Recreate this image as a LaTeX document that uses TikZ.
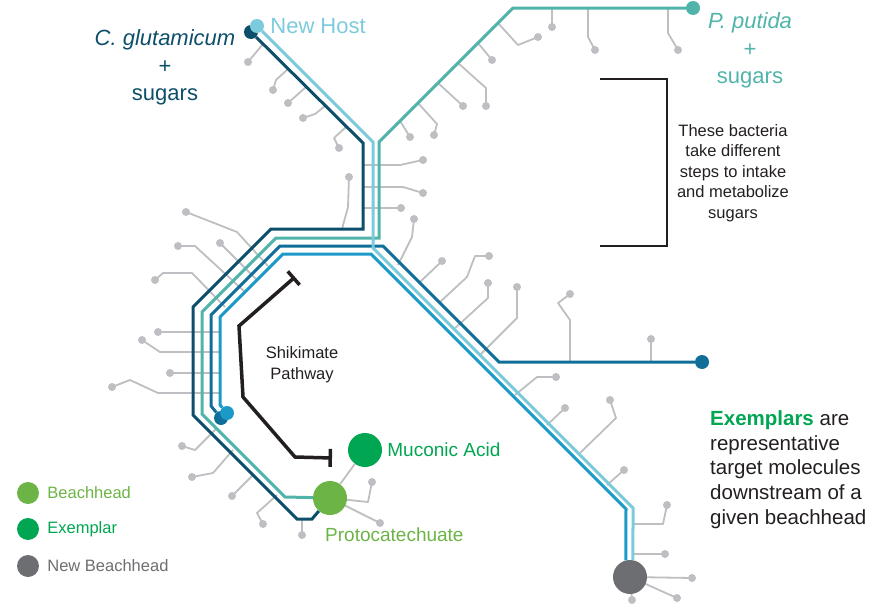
\documentclass[tikz,border=0pt]{standalone}
\usepackage{fontspec}
\setmainfont{Liberation Sans}
\usetikzlibrary{arrows.meta, positioning}

\definecolor{glunavy}{RGB}{13,79,107}
\definecolor{hostcyan}{RGB}{124,203,221}
\definecolor{putteal}{RGB}{80,180,170}
\definecolor{midblue}{RGB}{16,110,153}
\definecolor{brblue}{RGB}{27,154,199}
\definecolor{brgray}{RGB}{190,191,194}
\definecolor{bhgreen}{RGB}{108,180,69}
\definecolor{exgreen}{RGB}{0,166,81}
\definecolor{nbgray}{RGB}{109,110,113}
\definecolor{inkdark}{RGB}{35,31,32}

\begin{document}
\begin{tikzpicture}[x=1pt, y=-1pt]
			\tikzset{route/.style={line width=3pt}, branch/.style={draw=brgray, line width=1.8pt, line join=round},
				leaf/.style={circle, fill=brgray, inner sep=0pt, minimum size=8pt},
				dot/.style={circle, inner sep=0pt, minimum size=14pt},
				hub/.style={circle, inner sep=0pt, minimum size=34pt},
				legdot/.style={circle, inner sep=0pt, minimum size=22pt},
				hdr/.style={inner sep=0pt, font=\fontsize{22}{27.5}\selectfont},
				note/.style={inner sep=0pt, text=inkdark, font=\fontsize{16.5}{20.4}\selectfont},
				lbl/.style={inner sep=0pt, font=\fontsize{19}{23}\selectfont},
				leg/.style={inner sep=0pt, font=\fontsize{16.5}{20}\selectfont}}
			\useasboundingbox (0,0) rectangle (887,605);

			% side branches
			\foreach \ax/\ay/\bx/\by/\cx/\cy/\tx/\ty [count=\i] in {
				263/44/263/44/263/44/248/62, 288/69/276/80/276/80/273/90, 306/87/306/87/306/87/288/103,
				325/106/315/114/315/114/303/118, 346/127/334/138/334/138/339/148,
				363/165/400/165/400/165/423/160, 363/187/403/187/403/187/423/193, 363/208/363/208/363/208/401/208,
				342/229/348/207/348/207/349/177, 398/265/412/237/412/237/414/219, 420/282/420/282/420/282/442/261,
				552/8/552/8/552/8/552/27, 588/8/588/37/588/37/595/50, 668/8/668/33/668/33/678/50,
				498/23/518/45/518/45/538/37, 478/43/478/43/478/43/492/60, 458/63/486/88/486/88/486/106,
				438/83/438/83/438/83/463/106, 418/103/437/124/437/124/434/135, 400/121/400/121/400/121/410/137,
				440/302/467/277/475/256/489/256, 453/330/488/298/488/298/488/283, 480/355/517/318/517/318/517/287,
				570/362/570/320/558/303/570/294, 651/362/651/362/651/362/651/339, 515/395/537/377/537/377/556/377,
				547/425/547/425/547/425/565/408, 580/453/616/418/616/418/610/400, 607/485/607/485/607/485/624/470,
				633/524/663/524/663/524/667/505, 633/554/633/554/633/554/665/554,
				630/577/630/577/630/577/692/578, 630/577/630/577/630/577/677/598, 630/577/630/577/630/577/632/600,
				268/266/237/232/237/232/186/212, 245/292/195/246/195/246/178/246, 257/280/257/280/257/280/220/243,
				225/307/192/273/163/273/155/280, 220/332/220/332/220/332/158/332, 220/352/160/352/160/352/142/340,
				220/373/220/373/220/373/170/373, 220/393/158/393/130/380/112/387,
				217/428/195/450/195/450/182/446, 233/450/213/473/213/473/192/477, 253/475/253/475/253/475/232/496,
				277/495/257/513/257/513/263/524, 302/519/302/519/302/519/302/535,
				330/498/368/502/368/502/372/482, 330/498/330/498/330/498/380/523}
			{
				\node[leaf] (lf\i) at (\tx,\ty) {};
				\draw[branch] (\ax,\ay) -- (\bx,\by) -- (\cx,\cy) -- (lf\i.center);
			}

			% stops
			\node[dot, fill=glunavy] (glu) at (251,32) {};
			\node[dot, fill=hostcyan] (hst) at (257,26) {};
			\node[dot, fill=putteal] (ptd) at (693,8) {};
			\node[dot, fill=midblue] (mbe) at (702,362) {};
			\node[dot, fill=midblue] (mbd) at (221,418) {};
			\node[dot, fill=brblue] (bbd) at (227,413) {};
			\node[hub, fill=bhgreen] (pca) at (330,498) {};
			\node[hub, fill=exgreen] (muc) at (365,450) {};
			\node[hub, fill=nbgray] (nbh) at (630,577) {};
			\draw[branch] (pca) -- (muc);

			% routes
			\draw[route, glunavy] (glu) -- (363,143) -- (363,229) -- (271,229) -- (193,307) -- (193,415) -- (297,519) -- (312,519) -- (pca);
			\draw[route, putteal] (ptd) -- (513,8) -- (379,142) -- (379,238) -- (276,238) -- (202,312) -- (202,414) -- (285,497) -- (pca);
			\draw[route, midblue] (mbd) -- (211,406) -- (211,315) -- (280,246) -- (383,246) -- (499,362) -- (mbe);
			\draw[route, brblue] (bbd) -- (220,405) -- (220,317) -- (283,254) -- (371,254) -- (626,509) -- (nbh.104);
			\draw[route, hostcyan] (hst) -- (373,142) -- (373,248) -- (633,508) -- (nbh.80);

			% shikimate pathway
			\coordinate (shk1) at (295,277);
			\coordinate (shk2) at (332,458);
			\draw[inkdark, line width=3.5pt, {Bar[width=18pt]}-{Bar[width=18pt]}] (shk1) -- (239,326) -- (243,397) -- (295,457) -- (shk2);
			\node[note] (shk) at (302,365) {\begin{tabular}{@{}c@{}}Shikimate\\Pathway\end{tabular}};

			% bracket
			\coordinate (br1) at (600,79);
			\coordinate (br2) at (600,246);
			\draw[inkdark, line width=2pt] (br1) -- (667,79) -- (667,246) -- (br2);
			\node[note, align=center] (brtxt) at (733,173) {These bacteria\\take different\\steps to intake\\and metabolize\\sugars};

			% labels
			\node[hdr, glunavy, align=center] (glutxt) at (165,67.5) {\textit{C. glutamicum}\\+\\sugars};
			\node[hdr, hostcyan, right=6pt of hst] (hsttxt) {New Host};
			\node[hdr, putteal, align=center] (ptdtxt) at (750,50.5) {\textit{P. putida}\\+\\sugars};
			\node[lbl, exgreen, right=5pt of muc] (muctxt) {Muconic Acid};
			\node[lbl, bhgreen, anchor=west] (pcatxt) at (325,535) {Protocatechuate};
			\node[inner sep=0pt, text=inkdark, anchor=west, align=left, font=\fontsize{20.5}{24.7}\selectfont] (extxt) at (710,469.5)
				{\textcolor{exgreen}{\bfseries Exemplars} are\\representative\\target molecules\\downstream of a\\given beachhead};

			% legend
			\node[legdot, fill=bhgreen] (lgb) at (28,493) {};
			\node[legdot, fill=exgreen] (lge) at (28,529) {};
			\node[legdot, fill=nbgray] (lgn) at (28,566) {};
			\node[leg, bhgreen, right=8pt of lgb] {Beachhead};
			\node[leg, exgreen, right=8pt of lge] {Exemplar};
			\node[leg, nbgray, right=8pt of lgn] {New Beachhead};
		\end{tikzpicture}
\end{document}
